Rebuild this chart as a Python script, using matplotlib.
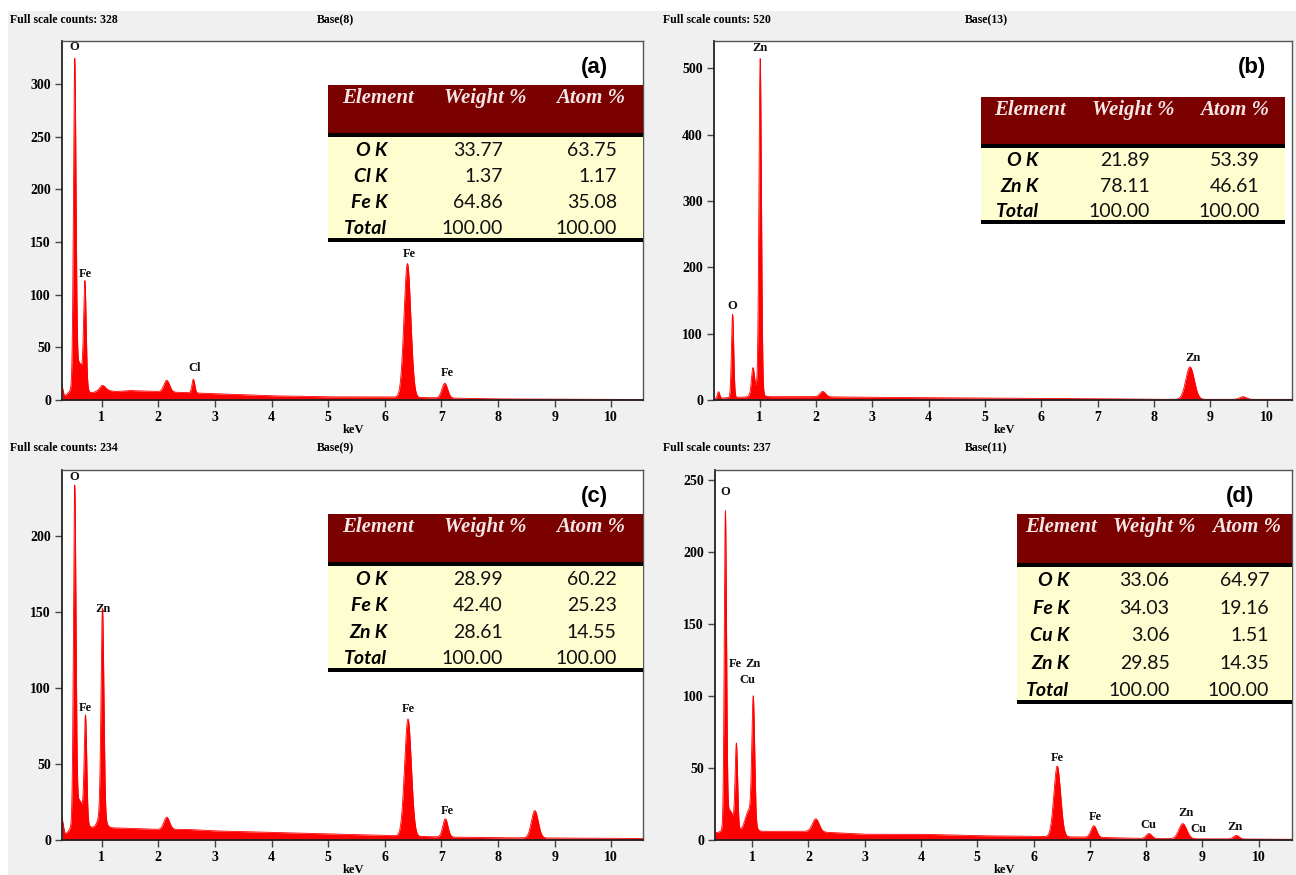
import numpy as np
import matplotlib.pyplot as plt
from matplotlib.patches import Rectangle

W, H = 1296, 875

# ---- panel (a) ----
bg_kev_a = [0.30, 0.34, 0.40, 0.80, 1.0, 1.25, 1.5, 2.0, 2.5, 3.0, 3.5, 4.0, 5.0, 6.0, 7.0, 8.0, 10.6]
bg_cnt_a = [14, 4, 5, 6, 10, 8, 9, 8, 7, 6, 5, 4, 3, 3, 2, 1, 0.5]
pk_kev_a = [0.525, 0.60, 0.705, 1.02, 2.15, 2.62, 6.40, 7.06]
pk_cnt_a = [300, 30, 95, 4, 11, 13, 127, 14]
pk_sig_a = [0.022, 0.08, 0.022, 0.05, 0.05, 0.025, 0.06, 0.05]
lab_a = ["O", "Fe", "Cl", "Fe", "Fe"]
lab_kev_a = [0.52, 0.71, 2.65, 6.43, 7.10]
lab_cnt_a = [335, 120, 30, 139, 26]
elem_a = ["O K", "Cl K", "Fe K", "Total"]
wt_a = [33.77, 1.37, 64.86, 100.00]
at_a = [63.75, 1.17, 35.08, 100.00]

# ---- panel (b) ----
bg_kev_b = [0.19, 0.5, 1.2, 2.0, 3.0, 5.0, 7.0, 8.0, 10.5]
bg_cnt_b = [2, 4, 5, 5, 4, 3, 2, 1, 1]
pk_kev_b = [0.27, 0.52, 0.88, 0.95, 1.01, 2.12, 8.64, 9.58]
pk_cnt_b = [10, 125, 35, 15, 500, 8, 49, 4]
pk_sig_b = [0.02, 0.02, 0.025, 0.07, 0.022, 0.05, 0.075, 0.06]
lab_b = ["Zn", "O", "Zn"]
lab_kev_b = [1.01, 0.51, 8.69]
lab_cnt_b = [531, 141, 64]
elem_b = ["O K", "Zn K", "Total"]
wt_b = [21.89, 78.11, 100.00]
at_b = [53.39, 46.61, 100.00]

# ---- panel (c) ----
bg_kev_c = [0.30, 0.35, 0.80, 1.2, 2.0, 2.5, 3.0, 4.0, 5.0, 6.0, 7.0, 8.0, 10.6]
bg_cnt_c = [15, 4, 8, 8, 7, 7, 6, 5, 4, 3, 2, 1.5, 1]
pk_kev_c = [0.525, 0.60, 0.715, 1.00, 1.015, 2.15, 6.41, 7.07, 8.65]
pk_cnt_c = [215, 20, 68, 10, 135, 8, 77, 12, 18]
pk_sig_c = [0.022, 0.08, 0.022, 0.06, 0.025, 0.05, 0.06, 0.045, 0.06]
lab_c = ["O", "Fe", "Zn", "Fe", "Fe"]
lab_kev_c = [0.52, 0.72, 1.02, 6.42, 7.10]
lab_cnt_c = [239, 87, 152, 86, 19]
elem_c = ["O K", "Fe K", "Zn K", "Total"]
wt_c = [28.99, 42.40, 28.61, 100.00]
at_c = [60.22, 25.23, 14.55, 100.00]

# ---- panel (d) ----
bg_kev_d = [0.34, 0.8, 1.2, 2.0, 3.0, 4.0, 5.0, 6.0, 7.0, 8.0, 10.6]
bg_cnt_d = [5, 6, 6, 6, 4, 4, 3, 2.5, 2, 1, 0.5]
pk_kev_d = [0.525, 0.60, 0.72, 0.95, 1.02, 2.13, 6.42, 7.07, 8.05, 8.65, 9.60]
pk_cnt_d = [215, 15, 58, 15, 85, 9, 49, 8, 3.5, 10.5, 2.5]
pk_sig_d = [0.02, 0.07, 0.022, 0.07, 0.025, 0.06, 0.06, 0.05, 0.05, 0.07, 0.05]
lab_d = ["O", "Fe", "Zn", "Cu", "Fe", "Fe", "Cu", "Zn", "Cu", "Zn"]
lab_kev_d = [0.53, 0.71, 1.02, 0.92, 6.43, 7.09, 8.04, 8.70, 8.92, 9.58]
lab_cnt_d = [242, 122, 122, 111, 57, 16, 10.4, 18.5, 7.4, 9.3]
elem_d = ["O K", "Fe K", "Cu K", "Zn K", "Total"]
wt_d = [33.06, 34.03, 3.06, 29.85, 100.00]
at_d = [64.97, 19.16, 1.51, 14.35, 100.00]

full_scale = [328, 520, 234, 237]
base_names = ["Base(8)", "Base(13)", "Base(9)", "Base(11)"]

SERIF = "Liberation Serif"
SANS = ["Lato", "DejaVu Sans"]


def fx(x):
    return x / W


def fy(y):
    return 1 - y / H


def spectrum(ax, bg_kev, bg_cnt, pk_kev, pk_cnt, pk_sig, xlim, ylim):
    x = np.linspace(xlim[0], xlim[1], 4000)
    y = np.interp(x, bg_kev, bg_cnt)
    for c, h, s in zip(pk_kev, pk_cnt, pk_sig):
        y = y + h * np.exp(-0.5 * ((x - c) / s) ** 2)
    ax.fill_between(x, 0, y, color="#ff0000", lw=0)
    ax.plot(x, y, color="#ff0000", lw=0.6)
    ax.set_xlim(xlim)
    ax.set_ylim(ylim)


def style_axes(ax, yticks):
    ax.set_xticks(range(1, 11))
    ax.set_yticks(yticks)
    ax.tick_params(direction="out", length=5, width=1, color="#444444",
                   labelsize=10, pad=3)
    for lab in ax.get_xticklabels() + ax.get_yticklabels():
        lab.set_fontfamily(SERIF)
        lab.set_fontweight("bold")
    for side in ["left", "bottom"]:
        ax.spines[side].set_color("#222222")
        ax.spines[side].set_linewidth(1.3)
    for side in ["top", "right"]:
        ax.spines[side].set_color("#555555")
        ax.spines[side].set_linewidth(1.0)


def table(fig, x0, x1, top, hb, bottom, elems, wts, ats):
    w = x1 - x0
    fig.add_artist(Rectangle((fx(x0), fy(hb)), w / W, (hb - top) / H,
                             transform=fig.transFigure, color="#7b0000", lw=0))
    fig.add_artist(Rectangle((fx(x0), fy(bottom)), w / W, (bottom - hb) / H,
                             transform=fig.transFigure, color="#fdfdcf", lw=0))
    for yy in [hb, bottom]:
        fig.add_artist(Rectangle((fx(x0), fy(yy + 1.5)), w / W, 3.5 / H,
                                 transform=fig.transFigure, color="black", lw=0))
    head_y = top + 13
    for txt, rel in zip(["Element", "Weight %", "Atom %"], [0.16, 0.50, 0.835]):
        fig.text(fx(x0 + rel * w), fy(head_y), txt, ha="center", va="center",
                 family=SERIF, weight="bold", style="italic", size=15,
                 color="#f5e6e6")
    n = len(elems)
    step = (bottom - hb) / n
    for i in range(n):
        yy = hb + (i + 0.58) * step
        fig.text(fx(x0 + 0.19 * w), fy(yy), elems[i], ha="right", va="center",
                 family=SANS, weight="bold", style="italic",
                 size=14, color="black")
        fig.text(fx(x0 + 0.555 * w), fy(yy), "%.2f" % wts[i], ha="right",
                 va="center", family=SANS, size=14, color="#111111")
        fig.text(fx(x0 + 0.917 * w), fy(yy), "%.2f" % ats[i], ha="right",
                 va="center", family=SANS, size=14, color="#111111")


fig = plt.figure(figsize=(W / 100, H / 100), dpi=100)
fig.patch.set_facecolor("white")
fig.add_artist(Rectangle((fx(8), 0), (W - 8) / W, (H - 11) / H,
                         transform=fig.transFigure, color="#f0f0f0", lw=0,
                         zorder=-10))

panels = [
    dict(box=(62, 643, 41, 400), xlim=(0.30, 10.56), ylim=(0, 341),
         yt=range(0, 301, 50),
         data=(bg_kev_a, bg_cnt_a, pk_kev_a, pk_cnt_a, pk_sig_a),
         labs=(lab_a, lab_kev_a, lab_cnt_a),
         tab=(327.5, 643, 85, 135, 240, elem_a, wt_a, at_a),
         letter="(a)", lpos=(594, 68), hy=20, hx=10, bx=335, kx=353, ky=430),
    dict(box=(714, 1292, 41, 400), xlim=(0.19, 10.45), ylim=(0, 541),
         yt=range(0, 501, 100),
         data=(bg_kev_b, bg_cnt_b, pk_kev_b, pk_cnt_b, pk_sig_b),
         labs=(lab_b, lab_kev_b, lab_cnt_b),
         tab=(981, 1285, 97, 146, 222, elem_b, wt_b, at_b),
         letter="(b)", lpos=(1252, 68), hy=20, hx=663, bx=986, kx=1004, ky=430),
    dict(box=(62, 643, 470, 840), xlim=(0.30, 10.56), ylim=(0, 243.4),
         yt=range(0, 201, 50),
         data=(bg_kev_c, bg_cnt_c, pk_kev_c, pk_cnt_c, pk_sig_c),
         labs=(lab_c, lab_kev_c, lab_cnt_c),
         tab=(327.5, 643, 514, 564, 670, elem_c, wt_c, at_c),
         letter="(c)", lpos=(594, 497), hy=448, hx=10, bx=335, kx=353, ky=870),
    dict(box=(715, 1292, 470, 840), xlim=(0.34, 10.59), ylim=(0, 257),
         yt=range(0, 251, 50),
         data=(bg_kev_d, bg_cnt_d, pk_kev_d, pk_cnt_d, pk_sig_d),
         labs=(lab_d, lab_kev_d, lab_cnt_d),
         tab=(1017, 1292, 514, 565, 702, elem_d, wt_d, at_d),
         letter="(d)", lpos=(1240, 497), hy=448, hx=663, bx=986, kx=1004, ky=870),
]

for k, p in enumerate(panels):
    l, r, t, b = p["box"]
    ax = fig.add_axes([fx(l), fy(b), (r - l) / W, (b - t) / H])
    ax.set_facecolor("white")
    spectrum(ax, *p["data"], p["xlim"], p["ylim"])
    style_axes(ax, list(p["yt"]))
    for txt, xk, yc in zip(*p["labs"]):
        ax.text(xk, yc, txt, ha="center", va="center", family=SERIF,
                weight="bold", size=9, color="#111111")
    fig.text(fx(p["hx"]), fy(p["hy"]), "Full scale counts: %d" % full_scale[k],
             ha="left", va="center", family=SERIF, weight="bold", size=8.5)
    fig.text(fx(p["bx"]), fy(p["hy"]), base_names[k], ha="center",
             va="center", family=SERIF, weight="bold", size=8.5)
    fig.text(fx(p["kx"]), fy(p["ky"]), "keV", ha="center", va="center",
             family=SERIF, weight="bold", size=9)
    table(fig, *p["tab"])
    fig.text(fx(p["lpos"][0]), fy(p["lpos"][1]), p["letter"], ha="center",
             va="center", family="Liberation Sans", weight="bold", size=16)

fig.savefig("out.png", dpi=100)
